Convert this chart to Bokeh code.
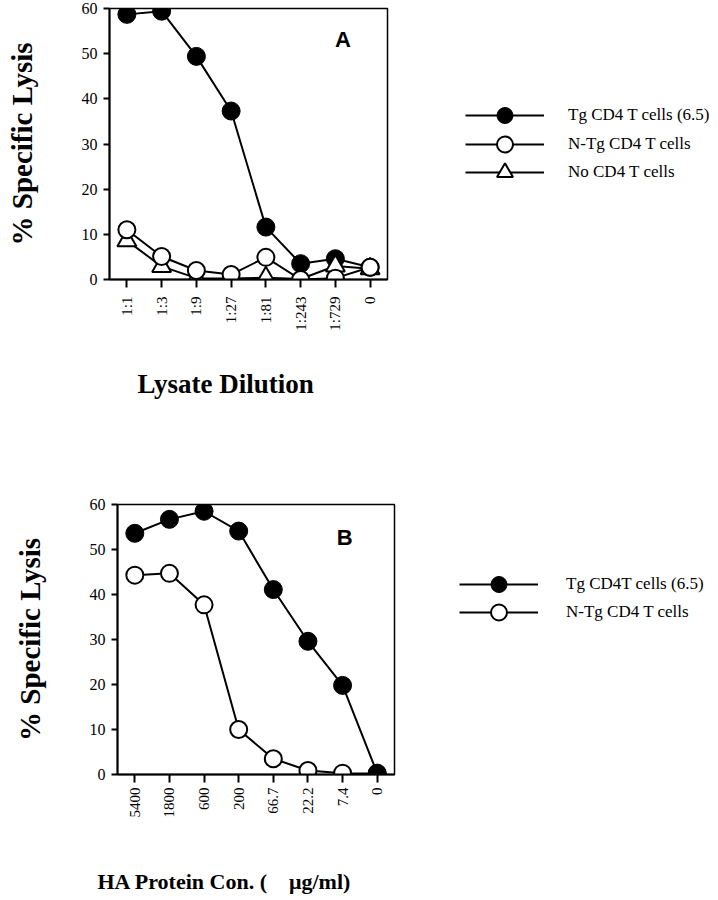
from math import pi
from bokeh.plotting import figure
from bokeh.models import FactorRange, Range1d, FixedTicker, Legend, LegendItem, Label, Title
from bokeh.layouts import column, row
from bokeh.embed import file_html
from bokeh.resources import INLINE

# ---------------- data ----------------
dil_a = ["1:1", "1:3", "1:9", "1:27", "1:81", "1:243", "1:729", "0"]
tg_a = [58.7, 59.4, 49.4, 37.3, 11.6, 3.5, 4.6, 2.7]
ntg_a = [11.0, 5.1, 2.0, 1.1, 4.9, 0.0, 0.3, 2.7]
nocd4_a = [8.6, 2.9, 0.3, 0.2, 0.4, 0.1, 3.0, 2.4]

conc_b = ["5400", "1800", "600", "200", "66.7", "22.2", "7.4", "0"]
tg_b = [53.6, 56.7, 58.5, 54.1, 41.1, 29.6, 19.8, 0.3]
ntg_b = [44.3, 44.7, 37.7, 10.0, 3.5, 0.9, 0.3, 0.2]

y_ticks = [0, 10, 20, 30, 40, 50, 60]

SERIF = "Liberation Serif"
SANS = "Liberation Sans"

# marker styles per series (fill colour, marker, size, outline width)
STY_TG = dict(marker="circle", fill_color="black", size=18, line_width=1)
STY_NTG = dict(marker="circle", fill_color="white", size=17, line_width=2)
STY_NO = dict(marker="triangle", fill_color="white", size=19, line_width=2)


def base_figure(factors, left, fw, right, top, fh, bottom, tick_standoff, title_standoff):
    p = figure(x_range=FactorRange(factors=factors), y_range=Range1d(0, 60),
               frame_width=fw, frame_height=fh,
               min_border_left=left, min_border_right=right,
               min_border_top=top, min_border_bottom=bottom,
               frame_align=False,
               output_backend="svg", toolbar_location=None,
               background_fill_color="white", border_fill_color="white")
    p.xgrid.visible = False
    p.ygrid.visible = False
    p.outline_line_color = "black"
    p.outline_line_width = 1.5
    for ax in (p.xaxis, p.yaxis):
        ax.axis_line_color = "black"
        ax.axis_line_width = 2
        ax.major_tick_line_color = "black"
        ax.major_tick_line_width = 2
        ax.major_tick_in = 0
        ax.minor_tick_line_color = None
        ax.major_label_text_color = "black"
        ax.major_label_text_font = SERIF
    p.yaxis.ticker = FixedTicker(ticks=y_ticks)
    p.yaxis.major_tick_out = 6
    p.yaxis.major_label_standoff = 6
    p.yaxis.major_label_text_font_size = "16px"
    p.xaxis.major_tick_out = 8
    p.xaxis.major_label_standoff = tick_standoff
    p.xaxis.major_label_text_font_size = "15px"
    p.xaxis.major_label_orientation = pi / 2
    p.yaxis.axis_label = "% Specific Lysis"
    p.yaxis.axis_label_text_font = SERIF
    p.yaxis.axis_label_text_font_style = "bold"
    p.yaxis.axis_label_text_font_size = "29px"
    p.yaxis.axis_label_text_color = "black"
    p.yaxis.axis_label_standoff = title_standoff
    return p


def series(p, x, y, sty):
    p.line(x, y, line_color="black", line_width=2)
    p.scatter(x, y, line_color="black", **sty)


def legend_figure(width, height, factors, entries, vx, standoff):
    """A panel that only shows the key. Its y range lies far from the data, so the
    series drawn in it stay out of view and only their legend samples appear.
    entries = (label, values, style, vy)."""
    lf = figure(width=width, height=height, x_range=FactorRange(factors=factors),
                y_range=Range1d(1000, 1001),
                x_axis_type=None, y_axis_type=None, frame_align=False,
                min_border_left=0, min_border_right=0, min_border_top=0, min_border_bottom=0,
                output_backend="svg", toolbar_location=None, outline_line_color=None,
                background_fill_color="white", border_fill_color="white")
    lf.xgrid.visible = False
    lf.ygrid.visible = False
    for label, vals, sty, vy in entries:
        ln = lf.line(factors, vals, line_color="black", line_width=2)
        sc = lf.scatter(factors, vals, line_color="black", **sty)
        lg = Legend(items=[LegendItem(label=label, renderers=[ln, sc], index=0)],
                    location=(vx, vy), padding=0, spacing=0, margin=0,
                    glyph_width=79, glyph_height=40, label_standoff=standoff,
                    label_text_font=SERIF, label_text_font_size="17px",
                    label_text_color="black",
                    border_line_color=None, background_fill_alpha=0)
        lf.add_layout(lg, "center")
    return lf


H_A = 439
H_B = 457

# ---------------- panel A ----------------
pa = base_figure(dil_a, 109, 278, 5, 8, 271, H_A - 279, 9, 41)
series(pa, dil_a, tg_a, STY_TG)
series(pa, dil_a, nocd4_a, STY_NO)
series(pa, dil_a, ntg_a, STY_NTG)
pa.add_layout(Label(x=6.72, y=53.1, text="A", text_font=SANS, text_font_style="bold",
                    text_font_size="22px", text_align="center", text_baseline="middle",
                    text_color="black"))
pa.add_layout(Title(text="Lysate Dilution", align="left", offset=28, standoff=66,
                    text_font=SERIF, text_font_style="bold", text_font_size="27px",
                    text_color="black"), "below")
leg_a = legend_figure(326, H_A, dil_a, [
    ("Tg CD4 T cells (6.5)", tg_a, STY_TG, H_A - 135),
    ("N-Tg CD4 T cells", ntg_a, STY_NTG, H_A - 164),
    ("No CD4 T cells", nocd4_a, STY_NO, H_A - 192),
], 73, 24)

# ---------------- panel B ----------------
pb = base_figure(conc_b, 117, 277, 5, 504 - H_A, 270, H_B - (504 - H_A) - 270, 5, 41)
series(pb, conc_b, ntg_b, STY_NTG)
series(pb, conc_b, tg_b, STY_TG)
pb.add_layout(Label(x=6.56, y=52.7, text="B", text_font=SANS, text_font_style="bold",
                    text_font_size="22px", text_align="center", text_baseline="middle",
                    text_color="black"))
pb.add_layout(Title(text="HA Protein Con. (\u00a0\u00a0\u00a0\u00a0μg/ml)", align="left",
                    offset=-20, standoff=92,
                    text_font=SERIF, text_font_style="bold", text_font_size="22px",
                    text_color="black"), "below")
leg_b = legend_figure(319, H_B, conc_b, [
    ("Tg CD4T cells (6.5)", tg_b, STY_TG, H_B - (584 - H_A) - 20),
    ("N-Tg CD4 T cells", ntg_b, STY_NTG, H_B - (612 - H_A) - 20),
], 60, 28)

layout = column(row(pa, leg_a, spacing=0), row(pb, leg_b, spacing=0), spacing=0)
open("out.html", "w").write(file_html(layout, INLINE))
